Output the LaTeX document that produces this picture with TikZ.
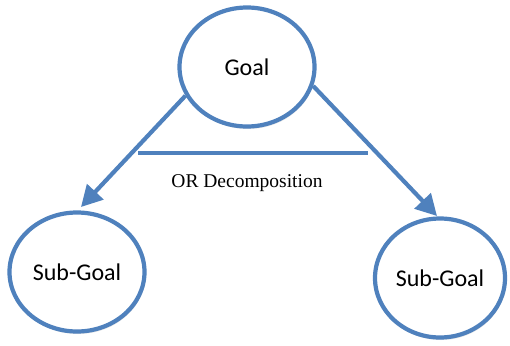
\documentclass[tikz,border=0pt]{standalone}
\usepackage{fontspec}
\setmainfont{Liberation Serif}
\newfontfamily\labelfont{Carlito}
\usetikzlibrary{arrows.meta,shapes.geometric,shadows}
\definecolor{goalblue}{HTML}{4F81BD}
\begin{document}
\begin{tikzpicture}[x=1pt,y=-1pt,
  goalnode/.style={ellipse, draw=goalblue, line width=4.2pt, fill=white,
    inner sep=0pt, font=\labelfont\fontsize{24}{27}\selectfont,
    drop shadow={opacity=0.2, shadow xshift=1pt, shadow yshift=-2.5pt}},
  link/.style={draw=goalblue, line width=4.2pt,
    -{Triangle[length=21pt,width=22pt]}},
  bar/.style={draw=goalblue, line width=4.2pt}]
\useasboundingbox (0,0) rectangle (510,345);
% goal and its two sub-goals
\node[goalnode, minimum width=135pt, minimum height=119pt] (goal) at (247,67) {Goal};
\node[goalnode, minimum width=135pt, minimum height=119pt] (subL) at (77,272) {Sub-Goal};
\node[goalnode, minimum width=130pt, minimum height=119pt] (subR) at (440,278) {Sub-Goal};
% arrow ends just above the sub-goals
\coordinate (tipL) at (81,207);
\coordinate (tipR) at (437,216);
\draw[link] (goal.205) -- (tipL);
\draw[link] (goal.344) -- (tipR);
% OR bar across both links
\coordinate (barL) at (138,153);
\coordinate (barR) at (368,153);
\draw[bar] (barL) -- (barR);
\node[font=\fontsize{19.5}{22}\selectfont] (orlabel) at (247,183) {OR Decomposition};
\end{tikzpicture}
\end{document}
